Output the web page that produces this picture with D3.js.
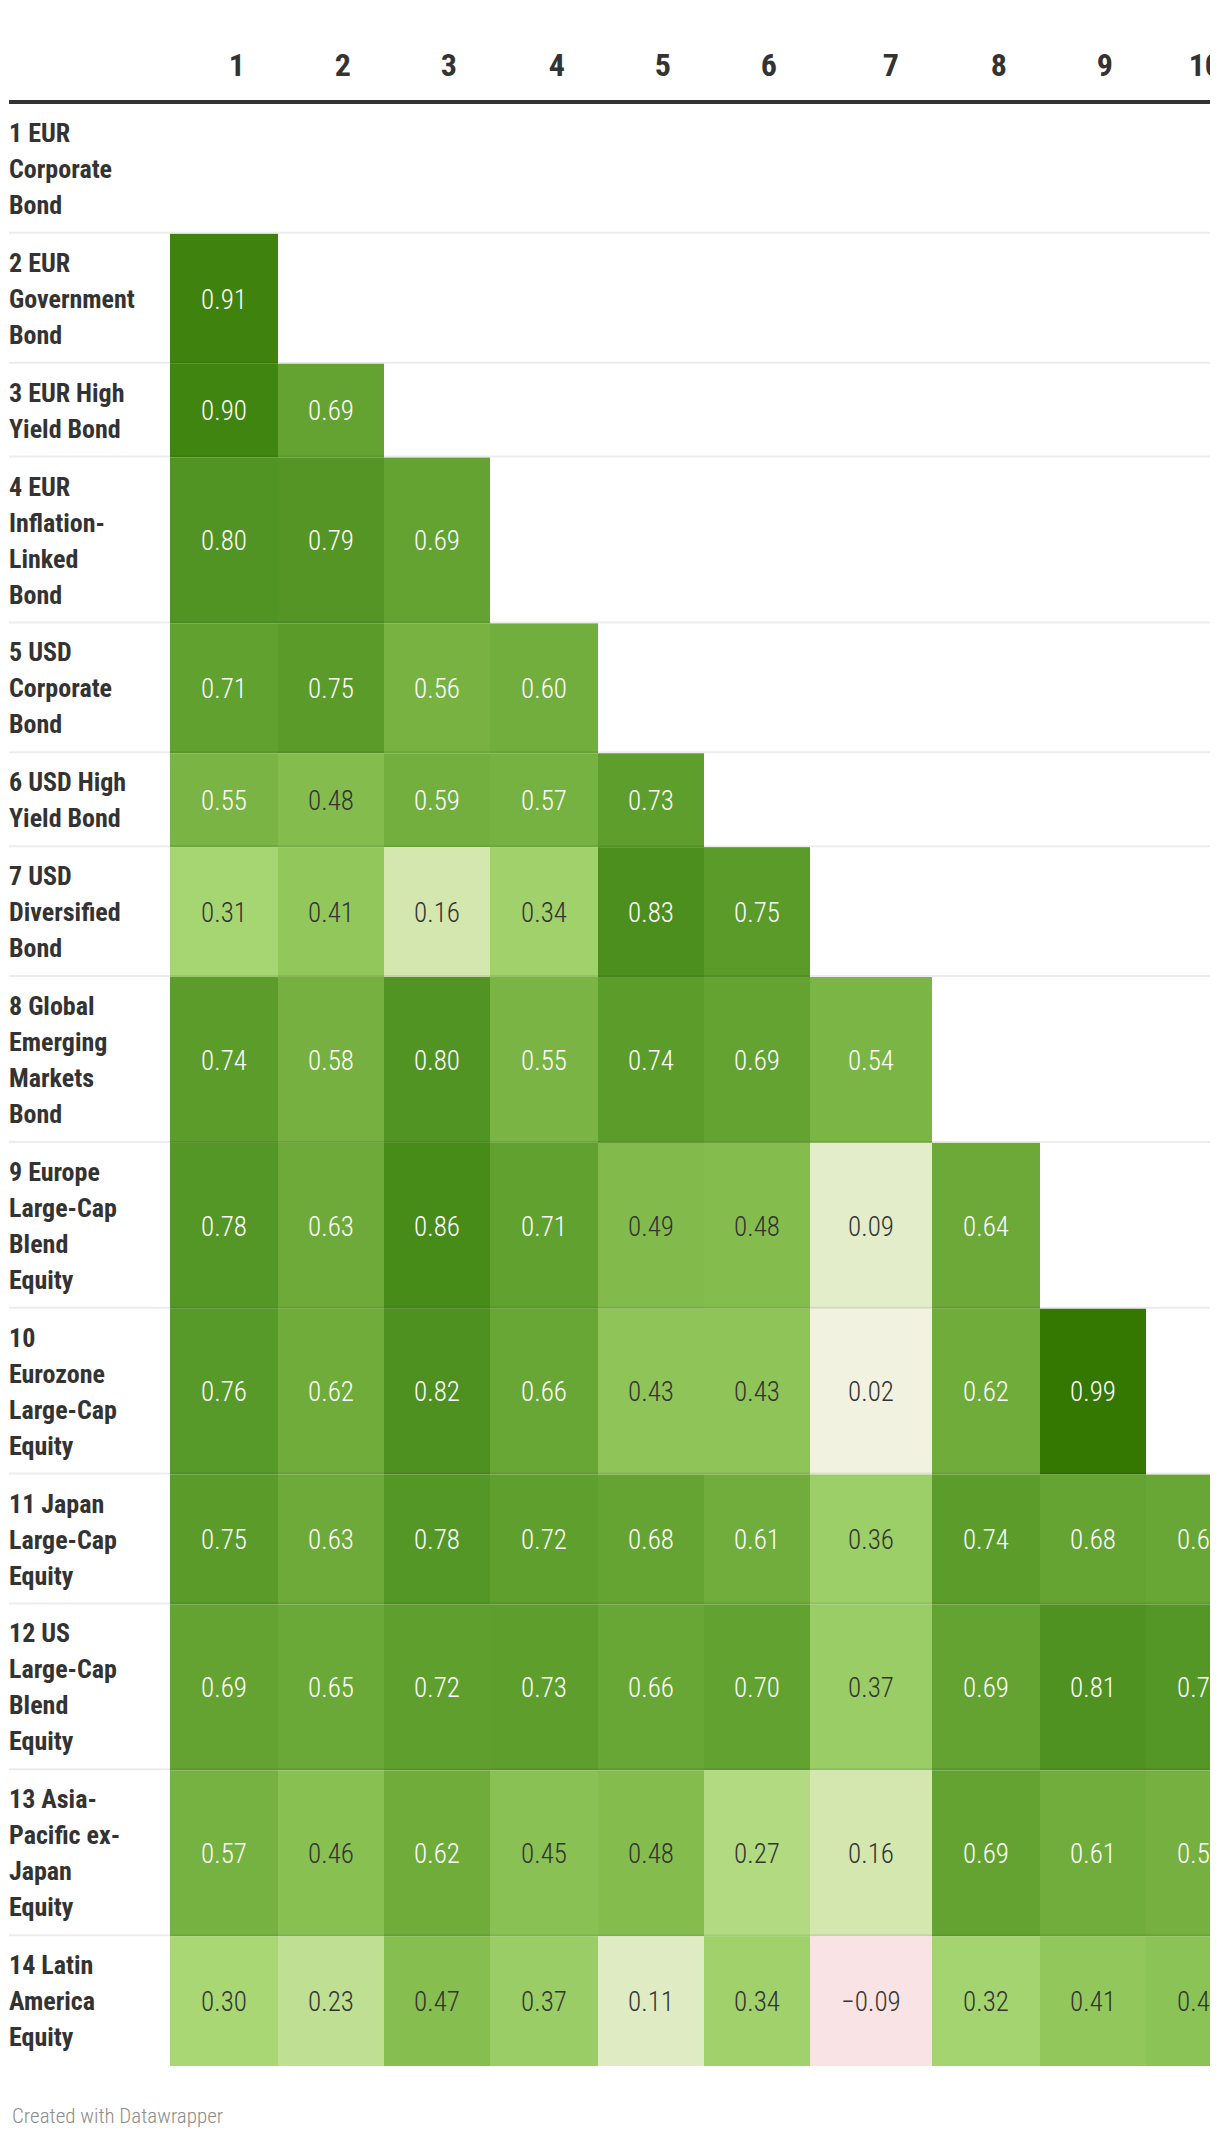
<!DOCTYPE html>
<html>
<head>
<meta charset="utf-8">
<script src="https://cdn.jsdelivr.net/npm/d3@7"></script>
<style>
  html, body { margin: 0; padding: 0; background: #ffffff; }
  svg { display: block; }
  .lbl { font-family: "Roboto Condensed", "Liberation Sans Narrow", "DejaVu Sans Condensed", sans-serif; font-weight: 700; fill: #333333; }
  .val { font-family: "Roboto Condensed", "Liberation Sans Narrow", "DejaVu Sans Condensed", sans-serif; font-weight: 300; }
  .foot { font-family: "Roboto Condensed", "Liberation Sans Narrow", "DejaVu Sans Condensed", sans-serif; font-weight: 300; fill: #8c8c8c; }
</style>
</head>
<body>
<div id="chart"></div>
<script>
// ---- data ----
const columnLabels = ["1", "2", "3", "4", "5", "6", "7", "8", "9", "10"];

const rowLabels = [
  ["1 EUR", "Corporate", "Bond"],
  ["2 EUR", "Government", "Bond"],
  ["3 EUR High", "Yield Bond"],
  ["4 EUR", "Inflation-", "Linked", "Bond"],
  ["5 USD", "Corporate", "Bond"],
  ["6 USD High", "Yield Bond"],
  ["7 USD", "Diversified", "Bond"],
  ["8 Global", "Emerging", "Markets", "Bond"],
  ["9 Europe", "Large-Cap", "Blend", "Equity"],
  ["10", "Eurozone", "Large-Cap", "Equity"],
  ["11 Japan", "Large-Cap", "Equity"],
  ["12 US", "Large-Cap", "Blend", "Equity"],
  ["13 Asia-", "Pacific ex-", "Japan", "Equity"],
  ["14 Latin", "America", "Equity"]
];

const correlations = [
  [],
  [0.91],
  [0.90, 0.69],
  [0.80, 0.79, 0.69],
  [0.71, 0.75, 0.56, 0.60],
  [0.55, 0.48, 0.59, 0.57, 0.73],
  [0.31, 0.41, 0.16, 0.34, 0.83, 0.75],
  [0.74, 0.58, 0.80, 0.55, 0.74, 0.69, 0.54],
  [0.78, 0.63, 0.86, 0.71, 0.49, 0.48, 0.09, 0.64],
  [0.76, 0.62, 0.82, 0.66, 0.43, 0.43, 0.02, 0.62, 0.99],
  [0.75, 0.63, 0.78, 0.72, 0.68, 0.61, 0.36, 0.74, 0.68, 0.66],
  [0.69, 0.65, 0.72, 0.73, 0.66, 0.70, 0.37, 0.69, 0.81, 0.78],
  [0.57, 0.46, 0.62, 0.45, 0.48, 0.27, 0.16, 0.69, 0.61, 0.58],
  [0.30, 0.23, 0.47, 0.37, 0.11, 0.34, -0.09, 0.32, 0.41, 0.44]
];

const colorStops = [-0.1, 0, 0.1, 0.2, 0.3, 0.4, 0.5, 0.6, 0.7, 0.8, 0.9, 1.0];
const colorRange = ["#f9e1e4", "#f5f4e6", "#e1ecc6", "#c9e39f", "#a8d774", "#94c95e",
                    "#80ba4a", "#72ae3d", "#62a230", "#529424", "#40850f", "#337600"];

const footerText = "Created with Datawrapper";

// ---- layout ----
const W = 1220, H = 2144;
const left = 9, right = 1210;
const labelColRight = 170;
const colWidths = [108, 106, 106, 108, 106, 106, 122, 108, 106, 108];
const lineH = 36, rowPad = 21.86;
const tableTop = 104;

const svg = d3.select("#chart").append("svg")
  .attr("width", W).attr("height", H);

const color = d3.scaleLinear().domain(colorStops).range(colorRange)
  .interpolate(d3.interpolateLab).clamp(true);

// column scale: ordinal from column label to left edge
const colStarts = [];
colWidths.reduce((acc, w) => { colStarts.push(acc); return acc + w; }, labelColRight);
const xScale = d3.scaleOrdinal().domain(columnLabels).range(colStarts);
const wScale = d3.scaleOrdinal().domain(columnLabels).range(colWidths);

// row scale: from row index to top edge
const rowKeys = rowLabels.map((d, i) => String(i));
const rowHeights = rowLabels.map(l => l.length * lineH + rowPad);
const rowStarts = [];
rowHeights.reduce((acc, h) => { rowStarts.push(acc); return acc + h; }, tableTop);
const yScale = d3.scaleOrdinal().domain(rowKeys).range(rowStarts);
const hScale = d3.scaleOrdinal().domain(rowKeys).range(rowHeights);

const clip = svg.append("defs").append("clipPath").attr("id", "tblclip");
clip.append("rect").attr("x", 0).attr("y", 0).attr("width", right).attr("height", H);

const g = svg.append("g").attr("clip-path", "url(#tblclip)");

// cells
const cells = [];
correlations.forEach((row, ri) => {
  row.forEach((v, ci) => cells.push({ r: String(ri), c: columnLabels[ci], v }));
});

g.selectAll("rect.cell").data(cells).join("rect")
  .attr("class", "cell")
  .attr("x", d => xScale(d.c))
  .attr("y", d => yScale(d.r))
  .attr("width", d => wScale(d.c))
  .attr("height", d => hScale(d.r))
  .attr("fill", d => color(d.v));

const fmt = v => (v < 0 ? "\u2212" : "") + d3.format(".2f")(Math.abs(v));

g.selectAll("text.val").data(cells).join("text")
  .attr("class", "val")
  .attr("x", d => xScale(d.c) + wScale(d.c) / 2)
  .attr("y", d => yScale(d.r) + hScale(d.r) / 2)
  .attr("dy", "0.36em")
  .attr("text-anchor", "middle")
  .attr("font-size", 27)
  .attr("fill", d => d.v >= 0.5 ? "#ffffff" : "#333333")
  .text(d => fmt(d.v));

// row separators
g.selectAll("line.sep").data(rowKeys.slice(0, -1)).join("line")
  .attr("class", "sep")
  .attr("x1", left).attr("x2", right)
  .attr("y1", d => yScale(d) + hScale(d) - 1)
  .attr("y2", d => yScale(d) + hScale(d) - 1)
  .attr("stroke", "rgba(0,0,0,0.075)")
  .attr("stroke-width", 2);

// header rule
g.append("line")
  .attr("x1", left).attr("x2", right)
  .attr("y1", 102).attr("y2", 102)
  .attr("stroke", "#333333").attr("stroke-width", 4);

// column headers
g.selectAll("text.hdr").data(columnLabels).join("text")
  .attr("class", "lbl hdr")
  .attr("x", d => xScale(d) + wScale(d) - 33)
  .attr("y", 76)
  .attr("text-anchor", "end")
  .attr("font-size", 32)
  .text(d => d);

// row labels
const lbl = g.selectAll("text.rlbl").data(rowKeys).join("text")
  .attr("class", "lbl rlbl")
  .attr("font-size", 26)
  .attr("x", left)
  .attr("y", d => yScale(d) + 11 + 27);
lbl.selectAll("tspan").data(d => rowLabels[+d]).join("tspan")
  .attr("x", left)
  .attr("dy", (d, i) => i === 0 ? 0 : lineH)
  .text(d => d);

// footer
svg.append("text")
  .attr("class", "foot")
  .attr("x", 12).attr("y", 2123)
  .attr("font-size", 21)
  .text(footerText);
</script>
</body>
</html>
